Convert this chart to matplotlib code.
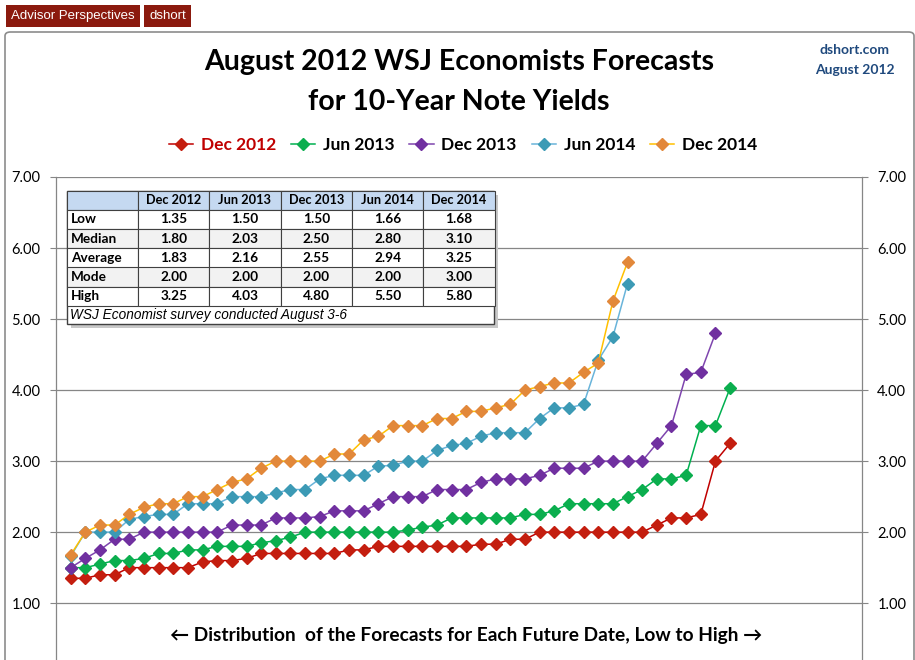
import matplotlib.pyplot as plt
from matplotlib.patches import FancyBboxPatch, Rectangle

# Forecast series, sorted low to high
dec_2012 = [1.35, 1.35, 1.40, 1.40, 1.50, 1.50, 1.50, 1.50, 1.50, 1.58,
            1.60, 1.60, 1.63, 1.70, 1.70, 1.70, 1.70, 1.70, 1.70, 1.75,
            1.75, 1.80, 1.80, 1.80, 1.80, 1.80, 1.80, 1.80, 1.83, 1.83,
            1.90, 1.90, 2.00, 2.00, 2.00, 2.00, 2.00, 2.00, 2.00, 2.00,
            2.10, 2.20, 2.20, 2.25, 3.00, 3.25]
jun_2013 = [1.50, 1.50, 1.55, 1.60, 1.60, 1.63, 1.70, 1.70, 1.75, 1.75,
            1.80, 1.80, 1.80, 1.85, 1.88, 1.93, 2.00, 2.00, 2.00, 2.00,
            2.00, 2.00, 2.00, 2.03, 2.07, 2.10, 2.20, 2.20, 2.20, 2.20,
            2.20, 2.25, 2.25, 2.30, 2.40, 2.40, 2.40, 2.40, 2.50, 2.60,
            2.75, 2.75, 2.80, 3.50, 3.50, 4.03]
dec_2013 = [1.50, 1.63, 1.75, 1.90, 1.90, 2.00, 2.00, 2.00, 2.00, 2.00,
            2.00, 2.10, 2.10, 2.10, 2.20, 2.20, 2.20, 2.22, 2.30, 2.30,
            2.30, 2.40, 2.50, 2.50, 2.50, 2.60, 2.60, 2.60, 2.70, 2.75,
            2.75, 2.75, 2.80, 2.90, 2.90, 2.90, 3.00, 3.00, 3.00, 3.00,
            3.25, 3.50, 4.22, 4.25, 4.80]
jun_2014 = [1.66, 2.00, 2.00, 2.00, 2.18, 2.22, 2.25, 2.25, 2.40, 2.40,
            2.40, 2.50, 2.50, 2.50, 2.55, 2.60, 2.60, 2.75, 2.80, 2.80,
            2.80, 2.93, 2.94, 3.00, 3.00, 3.15, 3.22, 3.25, 3.35, 3.40,
            3.40, 3.40, 3.60, 3.75, 3.75, 3.80, 4.42, 4.75, 5.50]
dec_2014 = [1.68, 2.00, 2.10, 2.10, 2.25, 2.35, 2.40, 2.40, 2.50, 2.50,
            2.60, 2.70, 2.75, 2.90, 3.00, 3.00, 3.00, 3.00, 3.10, 3.10,
            3.30, 3.35, 3.50, 3.50, 3.50, 3.60, 3.60, 3.70, 3.70, 3.75,
            3.80, 4.00, 4.05, 4.10, 4.10, 4.25, 4.38, 5.25, 5.80]

series_names = ['Dec 2012', 'Jun 2013', 'Dec 2013', 'Jun 2014', 'Dec 2014']
line_colors = ['#C00000', '#00B050', '#7E45AE', '#69B4DA', '#FFC000']
marker_colors = ['#C41E0F', '#0BAE4E', '#7030A0', '#3C9AB5', '#E2883A']

# Summary table
row_labels = ['Low', 'Median', 'Average', 'Mode', 'High']
table_values = [
    ['1.35', '1.50', '1.50', '1.66', '1.68'],
    ['1.80', '2.03', '2.50', '2.80', '3.10'],
    ['1.83', '2.16', '2.55', '2.94', '3.25'],
    ['2.00', '2.00', '2.00', '2.00', '3.00'],
    ['3.25', '4.03', '4.80', '5.50', '5.80'],
]
y_ticks = [1, 2, 3, 4, 5, 6, 7]

plt.rcParams['font.family'] = ['Lato', 'DejaVu Sans']

W, H = 915, 660
fig = plt.figure(figsize=(W / 100, H / 100), dpi=100)
ax = fig.add_axes([56 / W, 0, (862 - 56) / W, (660 - 177) / H])

all_series = [dec_2012, jun_2013, dec_2013, jun_2014, dec_2014]
handles = []
for vals, name, lc, mc in zip(all_series, series_names, line_colors, marker_colors):
    h, = ax.plot(range(len(vals)), vals, color=lc, linewidth=1.1,
                 marker='D', markersize=6.5, markerfacecolor=mc,
                 markeredgecolor=mc, label=name, zorder=3)
    handles.append(h)

ax.set_xlim(-1.0, 54.0)
ax.set_ylim(0.2, 7.0)
ax.set_yticks(y_ticks)
ax.set_yticklabels([f'{v:.2f}' for v in y_ticks])
ax.set_xticks([])
ax.grid(axis='y', color='#868686', linewidth=0.9)
ax.set_axisbelow(True)
for side in ['top', 'bottom']:
    ax.spines[side].set_visible(False)
for side in ['left', 'right']:
    ax.spines[side].set_color('#868686')
    ax.spines[side].set_linewidth(0.9)
ax.tick_params(axis='y', left=True, right=True, labelright=True,
               length=4, color='#868686', labelsize=10.5, pad=7)

# legend
leg = fig.legend(handles=handles, loc='center', bbox_to_anchor=(463 / W, 1 - 145 / H),
                 ncol=5, frameon=False, handlelength=1.4, handletextpad=0.45,
                 columnspacing=0.85, prop={'weight': 'bold', 'size': 12.5})
leg.get_texts()[0].set_color('#C00000')

# titles
fig.text(459 / W, 1 - 62 / H, 'August 2012 WSJ Economists Forecasts',
         ha='center', va='center', fontsize=20.5, fontweight='bold')
fig.text(459 / W, 1 - 102 / H, 'for 10-Year Note Yields',
         ha='center', va='center', fontsize=20.5, fontweight='bold')
fig.text(855 / W, 1 - 50 / H, 'dshort.com', ha='center', va='center',
         fontsize=10, fontweight='bold', color='#1F497D')
fig.text(855 / W, 1 - 70 / H, 'August 2012', ha='center', va='center',
         fontsize=10, fontweight='bold', color='#1F497D')
fig.text(466 / W, 1 - 635 / H,
         '\u2190 Distribution  of the Forecasts for Each Future Date, Low to High \u2192',
         ha='center', va='center', fontsize=13.8, fontweight='bold')

# outer frame and header badges
fig.patches.append(FancyBboxPatch((5 / W, -0.05), (914 - 5) / W, (1 - 32 / H) + 0.05,
                                  boxstyle='round,pad=0,rounding_size=0.006',
                                  transform=fig.transFigure, facecolor='none',
                                  edgecolor='#8C8C8C', linewidth=1.2, zorder=0))
fig.text(11 / W, 1 - 16 / H, 'Advisor Perspectives', ha='left', va='center',
         fontsize=9.5, color='white', family='Liberation Sans',
         bbox=dict(boxstyle='square,pad=0.4', facecolor='#8B1A0E', edgecolor='none'))
fig.text(149 / W, 1 - 16 / H, 'dshort', ha='left', va='center',
         fontsize=9.5, color='white', family='Liberation Sans',
         bbox=dict(boxstyle='square,pad=0.4', facecolor='#8B1A0E', edgecolor='none'))

# summary table (pixel layout)
def fx(x):
    return x / W

def fy(y):
    return 1 - y / H

tx0, col0_w, col_w, row_h, ty0 = 67, 71, 71.3, 19.2, 190.7
n_rows = len(row_labels) + 1
tw = col0_w + col_w * len(series_names)
th = row_h * n_rows + 18
# shadow
fig.patches.append(Rectangle((fx(tx0 + 4), fy(ty0 + th + 4)), tw / W, th / H,
                             transform=fig.transFigure, facecolor='#C8C8C8',
                             edgecolor='none', zorder=4))
fig.patches.append(Rectangle((fx(tx0), fy(ty0 + th)), tw / W, th / H,
                             transform=fig.transFigure, facecolor='white',
                             edgecolor='#404040', linewidth=1.0, zorder=5))
for r in range(n_rows):
    y_top = ty0 + r * row_h
    if r == 0:
        fc = '#C5D9F1'
    elif r % 2 == 0:
        fc = '#F2F2F2'
    else:
        fc = 'white'
    for c in range(len(series_names) + 1):
        x_left = tx0 if c == 0 else tx0 + col0_w + (c - 1) * col_w
        w = col0_w if c == 0 else col_w
        fig.patches.append(Rectangle((fx(x_left), fy(y_top + row_h)), w / W, row_h / H,
                                     transform=fig.transFigure, facecolor=fc,
                                     edgecolor='#404040', linewidth=0.8, zorder=5))
        if r == 0 and c == 0:
            continue
        if r == 0:
            txt, ha, xp = series_names[c - 1], 'center', x_left + w / 2
        elif c == 0:
            txt, ha, xp = row_labels[r - 1], 'left', x_left + 4
        else:
            txt, ha, xp = table_values[r - 1][c - 1], 'center', x_left + w / 2
        fig.text(fx(xp), fy(y_top + row_h / 2), txt, ha=ha, va='center',
                 fontsize=9.2 if r == 0 else 9.8, fontweight='bold', zorder=6)
fig.text(fx(tx0 + 3), fy(ty0 + n_rows * row_h + 9), 'WSJ Economist survey conducted August 3-6',
         ha='left', va='center', fontsize=9.8, style='italic', family='Liberation Sans', zorder=6)

fig.savefig('out.png', dpi=100)
